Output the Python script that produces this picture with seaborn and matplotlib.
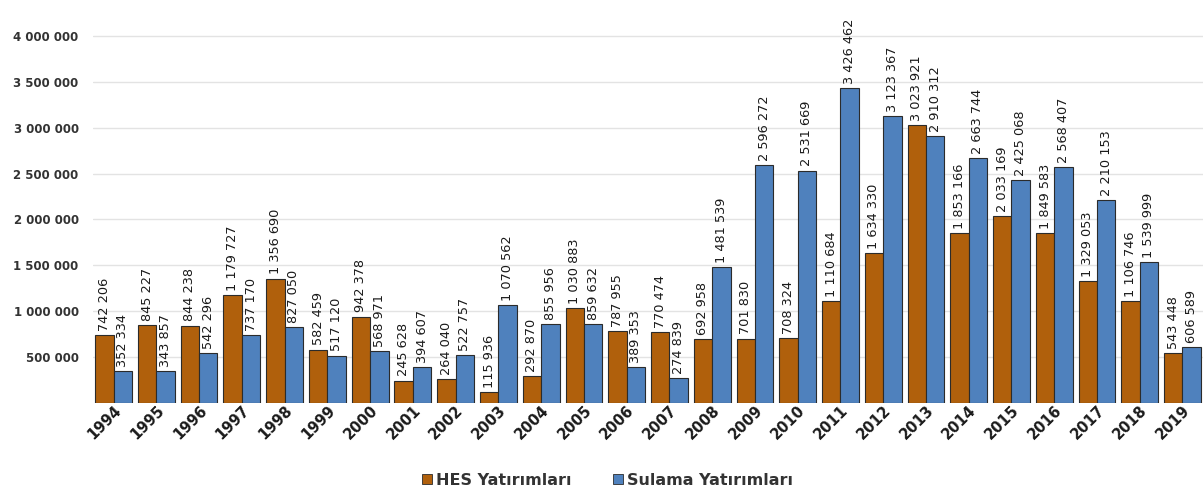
import matplotlib
matplotlib.use("Agg")
import matplotlib.pyplot as plt
import seaborn as sns
import pandas as pd

years = [str(y) for y in range(1994, 2020)]
hes = [742206, 845227, 844238, 1179727, 1356690, 582459, 942378, 245628, 264040,
       115936, 292870, 1030883, 787955, 770474, 692958, 701830, 708324, 1110684,
       1634330, 3023921, 1853166, 2033169, 1849583, 1329053, 1106746, 543448]
sulama = [352334, 343857, 542296, 737170, 827050, 517120, 568971, 394607, 522757,
          1070562, 855956, 859632, 389353, 274839, 1481539, 2596272, 2531669,
          3426462, 3123367, 2910312, 2663744, 2425068, 2568407, 2210153, 1539999,
          606589]
series = ["HES Yatırımları", "Sulama Yatırımları"]
colours = ["#B0600C", "#4F81BD"]

df = pd.DataFrame({
    "year": years * 2,
    "value": hes + sulama,
    "series": [series[0]] * len(years) + [series[1]] * len(years),
})

sns.set_style("white")
plt.rcParams["font.family"] = ["DejaVu Sans"]

fig = plt.figure(figsize=(12.03, 4.97), dpi=100)
ax = fig.add_axes([0.077, 0.189, 0.923, 0.811])

sns.barplot(
    data=df, x="year", y="value", hue="series", hue_order=series,
    palette=colours, width=0.86, gap=0, ax=ax,
    edgecolor="#2b2b2b", linewidth=0.8, saturation=1,
)

def fmt(v):
    return "{:,}".format(int(round(v))).replace(",", " ")

for cont in ax.containers:
    ax.bar_label(cont, labels=[fmt(b.get_height()) for b in cont],
                 rotation=90, padding=3, fontsize=9.3, color="#1a1a1a")

ax.set_ylim(0, 4390000)
ax.set_xlim(-0.49, len(years) - 0.52)
ax.set_yticks([500000 * i for i in range(1, 9)])
ax.set_yticklabels([fmt(500000 * i) for i in range(1, 9)],
                   fontsize=8.5, fontweight="bold", color="#333333")
ax.yaxis.grid(True, color="#e3e3e3", linewidth=1)
ax.set_axisbelow(True)
for s in ax.spines.values():
    s.set_visible(False)
ax.tick_params(axis="y", length=0, pad=10)
ax.tick_params(axis="x", length=0, pad=0)
plt.setp(ax.get_xticklabels(), rotation=45, ha="right", rotation_mode="anchor",
         fontsize=10.5, fontweight="bold", color="#1a1a1a")
ax.set_xlabel("")
ax.set_ylabel("")

ax.get_legend().remove()
handles = [plt.Rectangle((0, 0), 1, 1, facecolor=c, edgecolor="#2b2b2b", linewidth=0.6)
           for c in colours]
fig.legend(handles, series, loc="lower center", bbox_to_anchor=(0.505, -0.01),
           ncol=2, frameon=False, prop={"size": 11.5, "weight": "bold"},
           labelcolor="#333333", handlelength=0.6, handleheight=0.6,
           handletextpad=0.25, columnspacing=2.6)

fig.savefig("out.png", dpi=100)
